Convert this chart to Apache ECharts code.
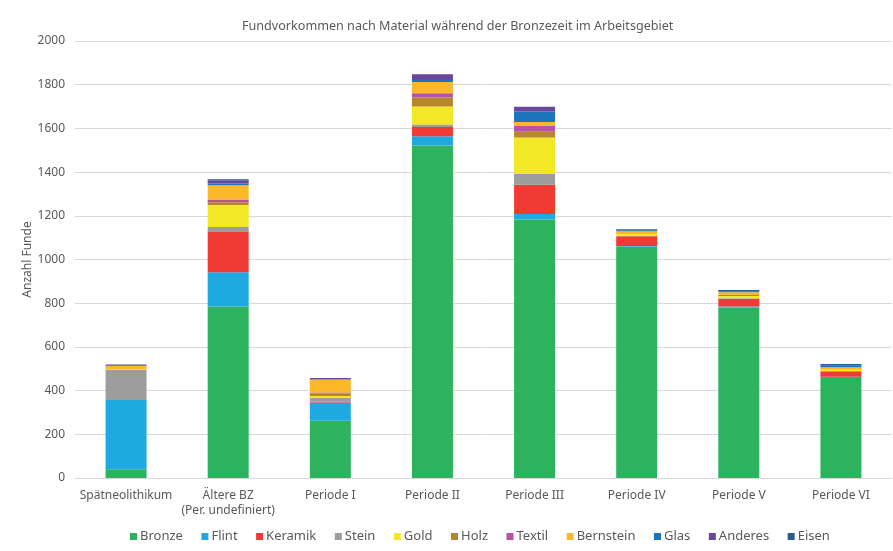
<!DOCTYPE html>
<html><head><meta charset="utf-8">
<script src="https://cdn.jsdelivr.net/npm/echarts@6/dist/echarts.min.js"></script>
<style>html,body{margin:0;padding:0;background:#fff}#c{width:893px;height:551px}</style>
</head><body><div id="c"></div>
<script>
const categories = ['Spätneolithikum', 'Ältere BZ\n(Per. undefiniert)', 'Periode I', 'Periode II', 'Periode III', 'Periode IV', 'Periode V', 'Periode VI'];
const bronze    = [40, 785, 262, 1522, 1183, 1059, 780, 463];
const flint     = [317, 157, 84, 42, 25, 3, 5, 0];
const keramik   = [0, 184, 3, 42, 134, 44, 35, 26];
const stein     = [137, 23, 17, 12, 49, 3, 3, 0];
const gold      = [3, 101, 9, 82, 167, 8, 10, 6];
const holz      = [0, 12, 13, 41, 27, 0, 5, 0];
const textil    = [0, 13, 3, 20, 26, 0, 0, 0];
const bernstein = [17, 65, 60, 51, 18, 12, 12, 12];
const glas      = [0, 8, 0, 9, 48, 5, 5, 7];
const anderes   = [5, 15, 7, 27, 22, 0, 0, 0];
const eisen     = [0, 4, 0, 0, 0, 5, 5, 8];

const seriesDefs = [
  ['Bronze', bronze, '#2db35d'],
  ['Flint', flint, '#1fa9e1'],
  ['Keramik', keramik, '#ef3b33'],
  ['Stein', stein, '#9d9d9d'],
  ['Gold', gold, '#f2e826'],
  ['Holz', holz, '#b8862a'],
  ['Textil', textil, '#b654a0'],
  ['Bernstein', bernstein, '#fbb92a'],
  ['Glas', glas, '#1b75bc'],
  ['Anderes', anderes, '#6a479c'],
  ['Eisen', eisen, '#275e8e']
];

const chart = echarts.init(document.getElementById('c'));
const txt = '#595959';
chart.setOption({
  animation: false,
  textStyle: { fontFamily: 'Noto Sans' },
  title: {
    text: 'Fundvorkommen nach Material während der Bronzezeit im Arbeitsgebiet',
    left: 237, top: 15,
    textStyle: { fontSize: 12.6, fontWeight: 'normal', color: txt, fontFamily: 'Noto Sans' }
  },
  legend: {
    bottom: 3, left: 125, itemWidth: 7, itemHeight: 7, itemGap: 18.5,
    icon: 'rect',
    textStyle: { fontSize: 13, color: txt, padding: [0, 0, 0, -2] },
    data: seriesDefs.map(s => s[0])
  },
  grid: { left: 75, right: 1, top: 41, bottom: 73, containLabel: false },
  xAxis: {
    type: 'category', data: categories,
    axisLine: { lineStyle: { color: '#d9d9d9' } },
    axisTick: { show: false },
    axisLabel: { color: txt, fontSize: 12, interval: 0, margin: 10, lineHeight: 15 }
  },
  yAxis: {
    type: 'value', min: 0, max: 2000, interval: 200,
    name: 'Anzahl Funde', nameLocation: 'middle', nameGap: 41, nameRotate: 90,
    nameMoveOverlap: false,
    nameTextStyle: { color: txt, fontSize: 12 },
    axisLine: { show: false }, axisTick: { show: false },
    axisLabel: { color: txt, fontSize: 12, margin: 10, formatter: v => String(v) },
    splitLine: { lineStyle: { color: '#d9d9d9' } }
  },
  series: seriesDefs.map(s => ({
    name: s[0], type: 'bar', stack: 'a', data: s[1], barWidth: 41,
    itemStyle: { color: s[2] }
  }))
});
</script></body></html>
